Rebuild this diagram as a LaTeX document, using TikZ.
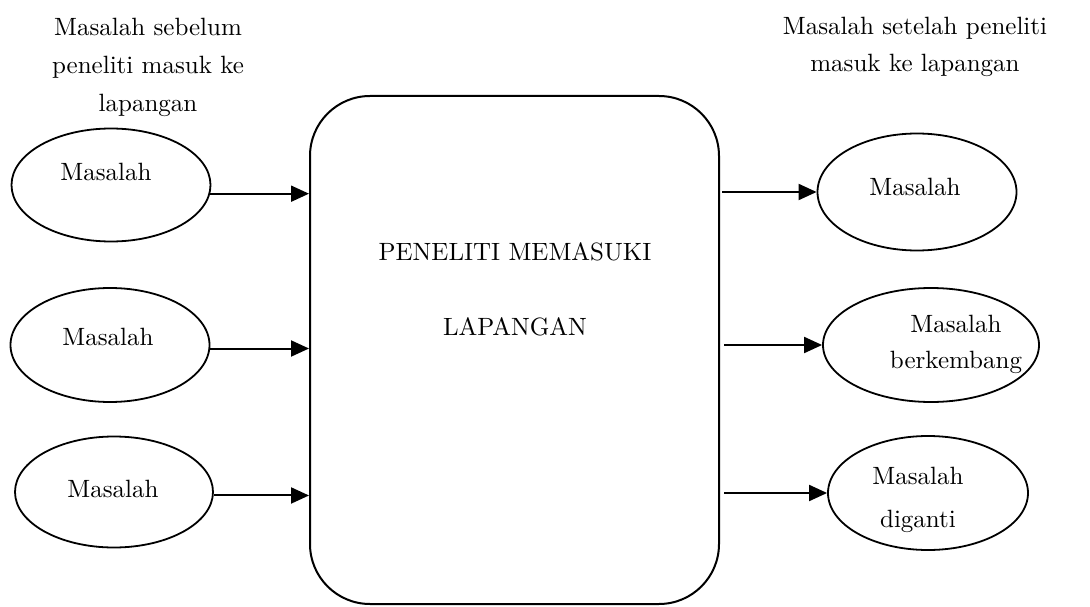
\documentclass[tikz,border=0pt]{standalone}
\usepackage{fontspec}
\setmainfont{lmroman10-regular}[Extension=.otf]
\usetikzlibrary{arrows.meta,shapes.geometric}

\tikzset{
  txt/.style={inner sep=0pt, anchor=north, align=center,
    font=\fontsize{25}{38}\selectfont},
  oval/.style={draw, ellipse, line width=1.8pt, inner sep=0pt},
  bigbox/.style={draw, rectangle, rounded corners=60pt, line width=2pt, inner sep=0pt},
  arr/.style={line width=2pt, -{Triangle[length=18pt,width=16pt]}},
}

\begin{document}
\begin{tikzpicture}[x=1pt,y=-1pt]
  \useasboundingbox (0,0) rectangle (1090,607);

  % central box
  \node[bigbox, minimum width=409pt, minimum height=508pt] (box) at (514.5,350) {};
  \node[txt] (boxtxt) at (515,242) {PENELITI MEMASUKI};
  \node[txt] (boxtxt2) at (515,317) {LAPANGAN};

  % column headings
  \node[txt] (hleft) at (148,18) {Masalah sebelum\\peneliti masuk ke\\lapangan};
  \node[txt, font=\fontsize{25}{37}\selectfont] (hright) at (915,17) {Masalah setelah peneliti\\masuk ke lapangan};

  % problems before entering the field
  \node[oval, minimum width=199pt, minimum height=113pt] (L1) at (111,185) {};
  \node[txt] (L1t) at (106,163) {Masalah};
  \node[oval, minimum width=199pt, minimum height=114pt] (L2) at (110,345) {};
  \node[txt] (L2t) at (108,328) {Masalah};
  \node[oval, minimum width=198pt, minimum height=111pt] (L3) at (114,492) {};
  \node[txt] (L3t) at (113,480) {Masalah};

  % problems after entering the field
  \node[oval, minimum width=199pt, minimum height=117pt] (R1) at (917,192) {};
  \node[txt] (R1t) at (915,178) {Masalah};
  \node[oval, minimum width=216pt, minimum height=114pt] (R2) at (931,345) {};
  \node[txt, font=\fontsize{25}{36}\selectfont] (R2t) at (956,315) {Masalah\\berkembang};
  \node[oval, minimum width=200pt, minimum height=114pt] (R3) at (928,493) {};
  \node[txt, font=\fontsize{25}{43}\selectfont] (R3t) at (918,467) {Masalah\\diganti};

  % incoming arrows
  \draw[arr] (L1.-5) -- (L1.-5 -| box.west);
  \draw[arr] (L2.-2) -- (L2.-2 -| box.west);
  \draw[arr] (L3.-2) -- (L3.-2 -| box.west);

  % outgoing arrows
  \draw[arr] ([xshift=2pt]box.east |- R1.west) -- (R1.west);
  \draw[arr] ([xshift=4pt]box.east |- R2.west) -- (R2.west);
  \draw[arr] ([xshift=4pt]box.east |- R3.west) -- (R3.west);
\end{tikzpicture}
\end{document}
